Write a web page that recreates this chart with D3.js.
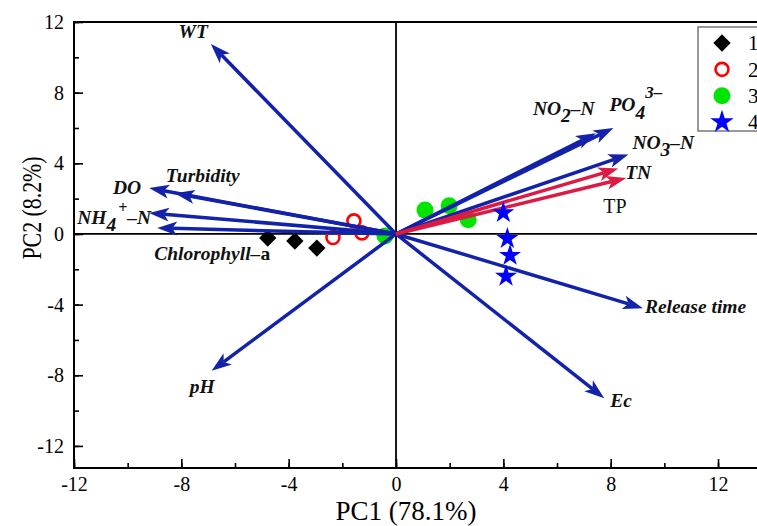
<!DOCTYPE html>
<html>
<head>
<meta charset="utf-8">
<script src="https://cdn.jsdelivr.net/npm/d3@7"></script>
<style>
  html, body { margin: 0; padding: 0; background: #fff; }
  svg { display: block; }
</style>
</head>
<body>
<svg id="chart" width="757" height="526"></svg>
<script>
// ---- data ----
const xTicks = [-12, -8, -4, 0, 4, 8, 12];
const yTicks = [-12, -8, -4, 0, 4, 8, 12];
const groups = ["1", "2", "3", "4"];
const group1 = [[-4.78, -0.23], [-3.77, -0.4], [-2.95, -0.8]];
const group2 = [[-2.35, -0.2], [-1.57, 0.74], [-1.27, 0.06]];
const group3 = [[-0.41, -0.12], [1.08, 1.35], [1.98, 1.6], [2.69, 0.8]];
const group4 = [[4.0, 1.2], [4.15, -0.26], [4.25, -1.22], [4.1, -2.4]];
const loadingNames = ["WT", "Turbidity", "DO", "NH4", "Chlorophyll-a", "pH", "Ec", "Release time", "NO2-N", "PO4", "NO3-N", "TN", "TP"];
const loadingPC1 = [-6.9, -8.25, -9.2, -9.2, -8.9, -6.87, 7.76, 9.2, 7.45, 8.1, 8.66, 8.28, 8.58];
const loadingPC2 = [10.75, 2.3, 2.6, 1.19, 0.34, -7.75, -9.3, -4.2, 5.7, 6.0, 4.5, 3.7, 3.17];
const loadingType = ["b", "b", "b", "b", "b", "b", "b", "b", "b", "b", "b", "r", "r"];

(function () {
// ---- layout ----
const svg = d3.select("#chart");
const mLeft = 74, mRight = 771.7, mTop = 22, mBottom = 468;
const x = d3.scaleLinear().domain([-12, 14]).range([mLeft, mRight]);
const y = d3.scaleLinear().domain([-13.25, 12]).range([mBottom, mTop]);
const BLUE = "#1222aa", RED = "#dc1a44";
const serif = "'Liberation Serif','Times New Roman',Times,serif";

// frame
svg.append("rect").attr("x", mLeft).attr("y", mTop).attr("width", mRight - mLeft).attr("height", mBottom - mTop)
  .attr("fill", "none").attr("stroke", "#000").attr("stroke-width", 2);

// axes (ticks inward)
const minorX = d3.range(-12, 14.01, 2);
const minorY = d3.range(-12, 12.01, 2);
const fmt = d => String(d);
const gx = svg.append("g").attr("transform", `translate(0,${mBottom})`)
  .call(d3.axisBottom(x).tickValues(minorX).tickSize(-5).tickFormat(""));
const gx2 = svg.append("g").attr("transform", `translate(0,${mBottom})`)
  .call(d3.axisBottom(x).tickValues(xTicks).tickSize(-9).tickPadding(9).tickFormat(fmt));
const gy = svg.append("g").attr("transform", `translate(${mLeft},0)`)
  .call(d3.axisLeft(y).tickValues(minorY).tickSize(-5).tickFormat(""));
const gy2 = svg.append("g").attr("transform", `translate(${mLeft},0)`)
  .call(d3.axisLeft(y).tickValues(yTicks).tickSize(-9).tickPadding(10).tickFormat(fmt));
[gx, gx2, gy, gy2].forEach(g => {
  g.select(".domain").remove();
  g.selectAll(".tick line").attr("stroke", "#000").attr("stroke-width", 1.6);
  g.selectAll(".tick text").attr("font-family", serif).attr("font-size", 20).attr("fill", "#000");
});

// zero lines
svg.append("line").attr("x1", mLeft).attr("x2", mRight).attr("y1", y(0)).attr("y2", y(0))
  .attr("stroke", "#000").attr("stroke-width", 1.8);
svg.append("line").attr("x1", x(0)).attr("x2", x(0)).attr("y1", mTop).attr("y2", mBottom)
  .attr("stroke", "#000").attr("stroke-width", 1.8);

// axis titles
svg.append("text").attr("x", 406).attr("y", 520).attr("text-anchor", "middle")
  .attr("font-family", serif).attr("font-size", 27).text("PC1 (78.1%)");
svg.append("text").attr("transform", "translate(41,208) rotate(-90) scale(0.81,1)").attr("text-anchor", "middle")
  .attr("font-family", serif).attr("font-size", 27).text("PC2 (8.2%)");

// scatter (below arrows)
const sc = svg.append("g");
sc.selectAll(".g1").data(group1).join("path").attr("class", "g1")
  .attr("transform", d => `translate(${x(d[0])},${y(d[1])}) rotate(45)`)
  .attr("d", d3.symbol(d3.symbolSquare, 150)).attr("fill", "#000");
sc.selectAll(".g2").data(group2).join("circle").attr("class", "g2")
  .attr("cx", d => x(d[0])).attr("cy", d => y(d[1])).attr("r", 6.5)
  .attr("fill", "none").attr("stroke", "#ff0000").attr("stroke-width", 2.6);
sc.selectAll(".g3").data(group3).join("circle").attr("class", "g3")
  .attr("cx", d => x(d[0])).attr("cy", d => y(d[1])).attr("r", 8.5).attr("fill", "#00e400");

// arrows
const ag = svg.append("g");
loadingNames.forEach((n, i) => {
  const x0 = x(0), y0 = y(0);
  const tx = x(loadingPC1[i]), ty = y(loadingPC2[i]);
  const dx = tx - x0, dy = ty - y0, len = Math.hypot(dx, dy);
  const ux = dx / len, uy = dy / len, px = -uy, py = ux;
  const col = loadingType[i] === "r" ? RED : BLUE;
  const hl = 20, hw = 7, notch = 15;
  ag.append("line").attr("x1", x0).attr("y1", y0)
    .attr("x2", tx - ux * notch).attr("y2", ty - uy * notch)
    .attr("stroke", col).attr("stroke-width", 3.5);
  const pts = [
    [tx, ty],
    [tx - ux * hl + px * hw, ty - uy * hl + py * hw],
    [tx - ux * notch, ty - uy * notch],
    [tx - ux * hl - px * hw, ty - uy * hl - py * hw]
  ];
  ag.append("polygon").attr("points", pts.map(p => p.join(",")).join(" ")).attr("fill", col);
});

// stars
svg.append("g").selectAll("path").data(group4).join("path")
  .attr("transform", d => `translate(${x(d[0])},${y(d[1])})`)
  .attr("d", d3.symbol(d3.symbolStar, 150)).attr("fill", "#0000ff");

// labels
const lab = svg.append("g").attr("font-family", serif).attr("font-size", 19.5)
  .attr("font-weight", "bold").attr("font-style", "italic").attr("fill", "#111");
function label(px, py, parts, anchor) {
  const t = lab.append("text").attr("x", px).attr("y", py).attr("text-anchor", anchor || "start");
  parts.forEach(p => {
    const s = t.append("tspan").text(p.t);
    if (p.dy) s.attr("dy", p.dy);
    if (p.dx) s.attr("dx", p.dx);
    if (p.fs) s.attr("font-size", p.fs);
    if (p.up) s.attr("font-style", "normal");
  });
  return t;
}
function tip(n) { const i = loadingNames.indexOf(n); return [x(loadingPC1[i]), y(loadingPC2[i])]; }
let t;
t = tip("WT"); label(t[0] - 3, t[1] - 6, [{ t: "WT" }], "end");
t = tip("Turbidity"); label(t[0] - 9, t[1] - 11, [{ t: "Turbidity" }]);
t = tip("DO"); label(t[0] - 8, t[1] + 6, [{ t: "DO" }], "end");
t = tip("NH4"); label(t[0] - 72, t[1] + 11, [{ t: "NH" }, { t: "4", dy: 7 }, { t: "+", dy: -18, dx: 2, fs: 16 }, { t: "–N", dy: 11 }]);
t = tip("Chlorophyll-a"); label(t[0] - 3, t[1] + 32, [{ t: "Chlorophyll–" }, { t: "a", up: true }]);
t = tip("pH"); label(t[0] - 22, t[1] + 22, [{ t: "pH" }]);
t = tip("Ec"); label(t[0] + 6, t[1] + 9, [{ t: "Ec" }]);
t = tip("Release time"); label(t[0] + 2, t[1] + 5, [{ t: "Release time" }]);
t = tip("NO2-N"); label(t[0] - 63, t[1] - 18, [{ t: "NO" }, { t: "2", dy: 7 }, { t: "–N", dy: -7 }]);
t = tip("PO4"); label(t[0] - 4, t[1] - 17, [{ t: "PO" }, { t: "4", dy: 8 }, { t: "3–", dy: -21, fs: 17 }]);
t = tip("NO3-N"); label(t[0] + 4, t[1] - 5, [{ t: "NO" }, { t: "3", dy: 7 }, { t: "–N", dy: -7 }]);
t = tip("TN"); label(t[0] + 7, t[1] + 10, [{ t: "TN" }]);
t = tip("TP"); lab.append("text").attr("x", t[0] - 23).attr("y", t[1] + 35)
  .attr("font-weight", "normal").attr("font-style", "normal").attr("font-size", 20).text("TP");

// legend
const lg = svg.append("g");
lg.append("rect").attr("x", 698).attr("y", 27).attr("width", 80).attr("height", 104)
  .attr("fill", "#fff").attr("stroke", "#555").attr("stroke-width", 1.2);
const ly = d3.scalePoint().domain(groups).range([43, 122]);
const lx = 722;
lg.append("path").attr("transform", `translate(${lx},${ly("1")}) rotate(45)`)
  .attr("d", d3.symbol(d3.symbolSquare, 150)).attr("fill", "#000");
lg.append("circle").attr("cx", lx).attr("cy", ly("2")).attr("r", 6.5)
  .attr("fill", "none").attr("stroke", "#ff0000").attr("stroke-width", 2.6);
lg.append("circle").attr("cx", lx).attr("cy", ly("3")).attr("r", 8.5).attr("fill", "#00e400");
lg.append("path").attr("transform", `translate(${lx},${ly("4")})`)
  .attr("d", d3.symbol(d3.symbolStar, 170)).attr("fill", "#0000ff");
lg.selectAll("text").data(groups).join("text")
  .attr("x", 748).attr("y", d => ly(d)).attr("dy", "0.35em")
  .attr("font-family", serif).attr("font-size", 21).text(d => d);
})();
</script>
</body>
</html>
